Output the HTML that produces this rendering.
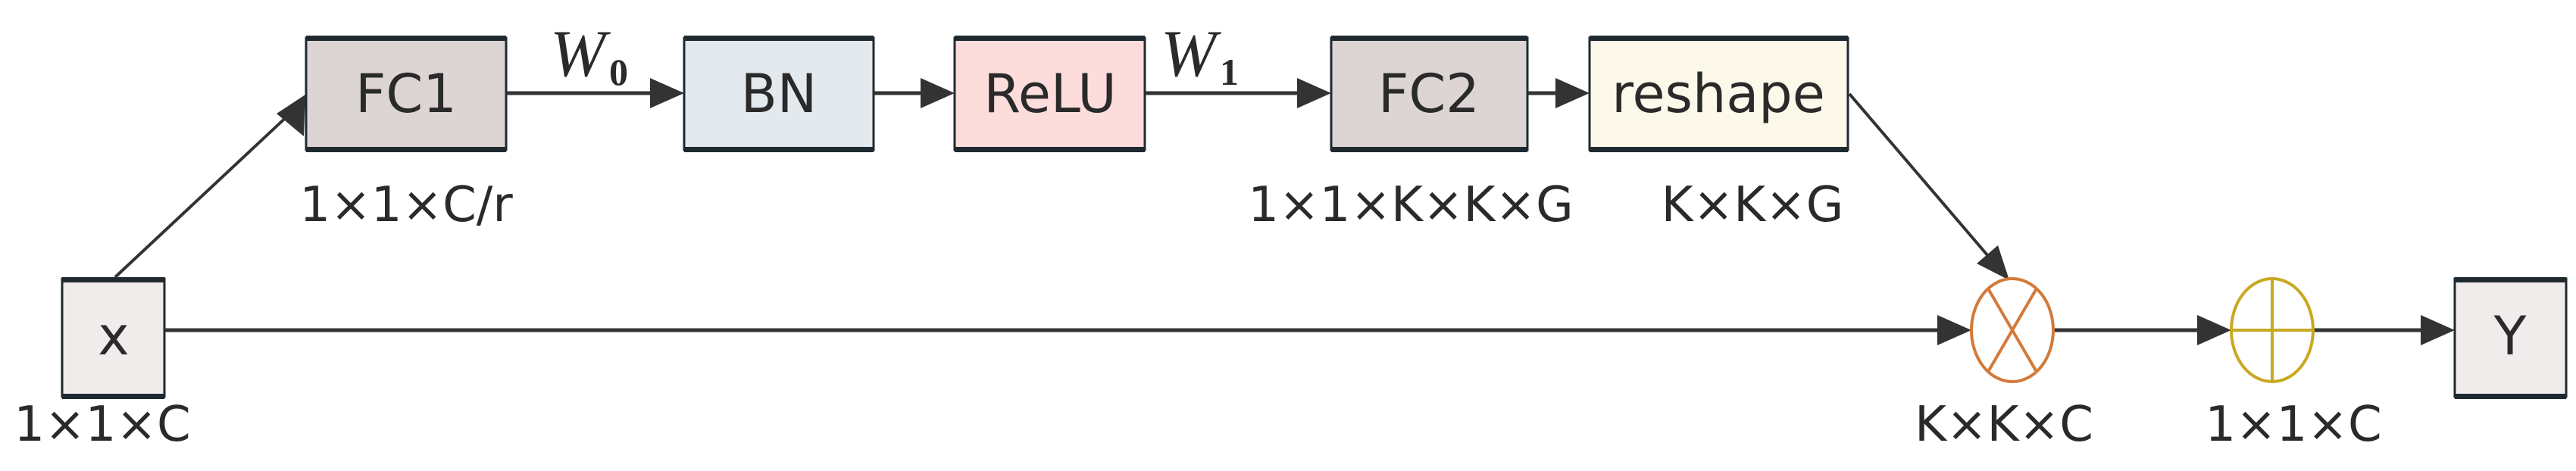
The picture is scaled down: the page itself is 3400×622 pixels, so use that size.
<!DOCTYPE html>
<html><head><meta charset="utf-8"><style>
html,body{margin:0;padding:0;background:#fff;}
svg{display:block;}
text{font-family:"DejaVu Sans","Liberation Sans",sans-serif;fill:#2a2a2a;}
.s{font-family:"Liberation Serif",serif;}
</style></head><body>
<svg width="3400" height="622" viewBox="0 0 3400 622" xmlns="http://www.w3.org/2000/svg">
<g stroke="#1f2a30" stroke-width="3">
<rect x="404" y="50" width="264" height="148" fill="#ddd5d3"/>
<rect x="903" y="50" width="250" height="148" fill="#e3e9ec"/>
<rect x="1260" y="50" width="251" height="148" fill="#fddddc"/>
<rect x="1757" y="50" width="259" height="148" fill="#ddd5d3"/>
<rect x="2098" y="50" width="341" height="148" fill="#fdf9ea"/>
<rect x="82" y="368" width="135" height="156" fill="#f1ecec"/>
<rect x="3240" y="368" width="147" height="156" fill="#f1ecec"/>
</g>
<g fill="#1f2a30">
<rect x="404" y="47" width="264" height="7"/><rect x="404" y="194" width="264" height="7"/>
<rect x="903" y="47" width="250" height="7"/><rect x="903" y="194" width="250" height="7"/>
<rect x="1260" y="47" width="251" height="7"/><rect x="1260" y="194" width="251" height="7"/>
<rect x="1757" y="47" width="259" height="7"/><rect x="1757" y="194" width="259" height="7"/>
<rect x="2098" y="47" width="341" height="7"/><rect x="2098" y="194" width="341" height="7"/>
<rect x="82" y="366" width="135" height="7"/><rect x="82" y="520" width="135" height="7"/>
<rect x="3240" y="366" width="147" height="7"/><rect x="3240" y="520" width="147" height="7"/>
</g>
<g stroke="#333" stroke-width="5" fill="none">
<line x1="668" y1="123" x2="870" y2="123"/>
<line x1="1153" y1="123" x2="1228" y2="123"/>
<line x1="1511" y1="123" x2="1724" y2="123"/>
<line x1="2016" y1="123" x2="2066" y2="123"/>
<line x1="217" y1="436" x2="2570" y2="436"/>
<line x1="2710" y1="436" x2="2910" y2="436"/>
<line x1="3054" y1="436" x2="3205" y2="436"/>
<line x1="152" y1="366" x2="385" y2="148" stroke-width="4"/>
<line x1="2441" y1="124" x2="2630" y2="345" stroke-width="4"/>
</g>
<g fill="#333">
<polygon points="903,123 858,103 858,143"/>
<polygon points="1260,123 1215,103 1215,143"/>
<polygon points="1757,123 1712,103 1712,143"/>
<polygon points="2098,123 2053,103 2053,143"/>
<polygon points="2602,436 2557,416 2557,456"/>
<polygon points="2945,436 2900,416 2900,456"/>
<polygon points="3240,436 3195,416 3195,456"/>
<polygon points="403,125 401,180 365,150"/>
<polygon points="2652,370 2637,324 2609,348"/>
</g>
<ellipse cx="2656" cy="436" rx="54" ry="68" fill="#fff" stroke="#d27a3a" stroke-width="4"/>
<line x1="2624" y1="381" x2="2688" y2="491" stroke="#d27a3a" stroke-width="4"/>
<line x1="2688" y1="381" x2="2624" y2="491" stroke="#d27a3a" stroke-width="4"/>
<ellipse cx="2999" cy="436" rx="54" ry="68" fill="#fff" stroke="#c8a820" stroke-width="4"/>
<line x1="2945" y1="436" x2="3053" y2="436" stroke="#c8a820" stroke-width="4"/>
<line x1="2999" y1="368" x2="2999" y2="504" stroke="#c8a820" stroke-width="4"/>
<g font-size="70" text-anchor="middle">
<text x="536" y="148">FC1</text>
<text x="1028" y="148">BN</text>
<text x="1386" y="148">ReLU</text>
<text x="1886" y="148">FC2</text>
<text x="2268" y="148">reshape</text>
<text x="150" y="468">x</text>
<text x="3313" y="468">Y</text>
</g>
<g font-size="64" text-anchor="middle">
<text x="536" y="292">1×1×C/r</text>
<text x="1862" y="292">1×1×K×K×G</text>
<text x="2313" y="292">K×K×G</text>
<text x="135" y="582">1×1×C</text>
<text x="2645" y="582">K×K×C</text>
<text x="3027" y="582">1×1×C</text>
</g>
<text class="s" x="726" y="100" font-size="88" font-style="italic">W</text>
<text class="s" x="804" y="112" font-size="50" font-weight="bold">0</text>
<text class="s" x="1532" y="100" font-size="88" font-style="italic">W</text>
<text class="s" x="1610" y="112" font-size="50" font-weight="bold">1</text>
</svg>
</body></html>
